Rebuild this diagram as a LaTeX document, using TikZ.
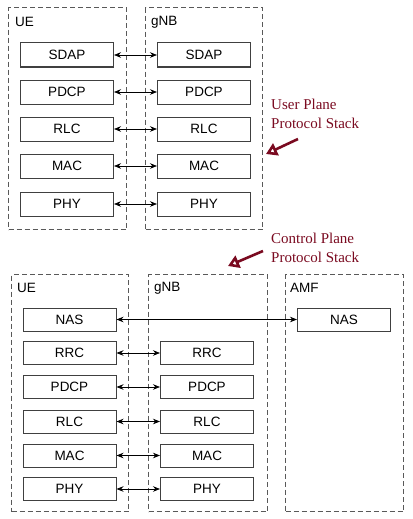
\documentclass[tikz,border=0pt]{standalone}
\usepackage{fontspec}
\setmainfont{Liberation Serif}
\setsansfont{Liberation Sans}
\usetikzlibrary{arrows.meta}
\definecolor{planered}{RGB}{122,10,32}
\tikzset{
	frame/.style={draw=black!65, dashed, dash pattern=on 5pt off 3pt, line width=1.1pt, anchor=north west, inner sep=0pt},
	layer/.style={draw=black!75, line width=1pt, minimum width=93, minimum height=24, inner sep=0pt, font=\sffamily\fontsize{13.5}{13.5}\selectfont},
	framelabel/.style={anchor=west, inner sep=0pt, font=\sffamily\fontsize{13.5}{13.5}\selectfont},
	peer/.style={{Stealth[length=7pt,width=5.5pt]}-{Stealth[length=7pt,width=5.5pt]}, line width=0.7pt},
	note/.style={anchor=north west, align=left, inner sep=0pt, text=planered, font=\fontsize{15}{19}\selectfont},
	pointer/.style={-{Triangle[open,length=11pt,width=13pt]}, draw=planered, line width=2.6pt}
}
\begin{document}
\begin{tikzpicture}[x=1pt,y=-1pt]
	\useasboundingbox (0,0) rectangle (412,519);
	% User plane: dashed frames
	\node[frame, minimum width=118, minimum height=222] (upue) at (8,7) {};
	\node[frame, minimum width=117, minimum height=222] (upgnb) at (145,7) {};
	\node[framelabel] (upuelabel) at (15,22) {UE};
	\node[framelabel] (upgnblabel) at (151,22) {gNB};
	% User plane: layers
	\foreach \name/\y in {SDAP/55, PDCP/92, RLC/129, MAC/166, PHY/204} {
		\node[layer] (upue\name) at (67,\y) {\name};
		\node[layer] (upgnb\name) at (204,\y) {\name};
		\draw[peer] (upue\name) -- (upgnb\name);
	}
	\node[note] (upnote) at (271,99) {User Plane\\Protocol Stack};
	\coordinate (uptail) at (298,139);
	\coordinate (uphead) at (266,154);
	\draw[pointer] (uptail) -- (uphead);

	% Control plane: dashed frames
	\node[frame, minimum width=117, minimum height=237] (cpue) at (11,274) {};
	\node[frame, minimum width=119, minimum height=237] (cpgnb) at (148,274) {};
	\node[frame, minimum width=118, minimum height=237] (cpamf) at (285,274) {};
	\node[framelabel] (cpuelabel) at (17,288) {UE};
	\node[framelabel] (cpgnblabel) at (154,288) {gNB};
	\node[framelabel] (cpamflabel) at (290,288) {AMF};
	% Control plane: layers
	\node[layer, minimum height=23] (cpueNAS) at (69.5,319.5) {NAS};
	\node[layer, minimum height=23] (cpamfNAS) at (344,319.5) {NAS};
	\draw[peer] (cpueNAS) -- (cpamfNAS);
	\foreach \name/\y in {RRC/353, PDCP/387, RLC/421.5, MAC/455.5, PHY/489} {
		\node[layer, minimum height=23] (cpue\name) at (69.5,\y) {\name};
		\node[layer, minimum height=23] (cpgnb\name) at (207,\y) {\name};
		\draw[peer] (cpue\name) -- (cpgnb\name);
	}
	\node[note] (cpnote) at (271,233) {Control Plane\\Protocol Stack};
	\coordinate (cptail) at (263,251);
	\coordinate (cphead) at (228,266);
	\draw[pointer] (cptail) -- (cphead);
\end{tikzpicture}
\end{document}
